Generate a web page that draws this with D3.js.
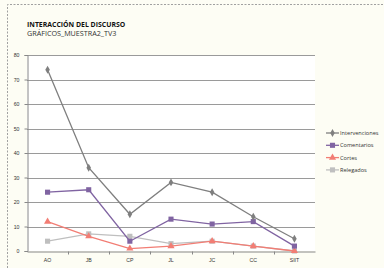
<!DOCTYPE html>
<html>
<head>
<meta charset="utf-8">
<script src="https://cdn.jsdelivr.net/npm/d3@7"></script>
<style>
  body { margin: 0; background: #fdfdf4; }
  svg { display: block; font-family: "Open Sans", "Liberation Sans", sans-serif; }
</style>
</head>
<body>
<div id="chart"></div>
<script>
var categories = ["AO", "JB", "CP", "JL", "JC", "CC", "SIIT"];
var intervenciones = [74, 34, 15, 28, 24, 14, 5];
var comentarios = [24, 25, 4, 13, 11, 12, 2];
var cortes = [12, 6, 1, 2, 4, 2, 0];
var relegados = [4, 7, 6, 3, 4, 2, 0];
var yTicks = [0, 10, 20, 30, 40, 50, 60, 70, 80];

var series = [
  { name: "Intervenciones", values: intervenciones, color: "#7f7f7f", shape: "diamond" },
  { name: "Comentarios", values: comentarios, color: "#8064a2", shape: "square" },
  { name: "Cortes", values: cortes, color: "#f27d74", shape: "triangle" },
  { name: "Relegados", values: relegados, color: "#bfbfbf", shape: "square" }
];

var width = 384, height = 268;
var margin = { top: 55, right: 69, bottom: 17, left: 27 };

var svg = d3.select("#chart").append("svg")
  .attr("width", width)
  .attr("height", height);

// dashed frame
svg.append("path")
  .attr("d", "M7.5," + height + "V4.5H" + width)
  .style("fill", "none")
  .style("stroke", "#a0a0a0")
  .style("stroke-dasharray", "2,1.5");

svg.append("text")
  .attr("x", 27).attr("y", 26.5)
  .style("font-size", "6.9px")
  .style("font-weight", "bold")
  .style("fill", "#111")
  .text("INTERACCIÓN DEL DISCURSO");
svg.append("text")
  .attr("x", 27).attr("y", 36)
  .style("font-size", "7.2px")
  .style("fill", "#333")
  .text("GRÁFICOS_MUESTRA2_TV3");

var x = d3.scaleBand().domain(categories).range([margin.left, width - margin.right]);
var y = d3.scaleLinear().domain([0, 80]).range([height - margin.bottom, margin.top]);

// plot area
svg.append("rect")
  .attr("x", margin.left).attr("y", y(80))
  .attr("width", x.range()[1] - margin.left)
  .attr("height", y(0) - y(80))
  .style("fill", "#fff");

// gridlines
svg.append("g")
  .selectAll("line")
  .data(yTicks.slice(1))
  .enter().append("line")
  .attr("x1", margin.left).attr("x2", x.range()[1])
  .attr("y1", function(d) { return Math.round(y(d)) + 0.5; })
  .attr("y2", function(d) { return Math.round(y(d)) + 0.5; })
  .style("stroke", "#9a9a9a")
  .style("stroke-width", "1px");

// y axis
var yAxis = svg.append("g")
  .attr("transform", "translate(" + (margin.left + 0.5) + ",0)")
  .call(d3.axisLeft(y).tickValues(yTicks).tickSize(3).tickPadding(5));
yAxis.selectAll("text").style("font-size", "5.2px").style("fill", "#333");
yAxis.selectAll("path, line").style("stroke", "#888");

// x axis
var xAxis = svg.append("g")
  .attr("transform", "translate(0," + (Math.round(y(0)) + 0.5) + ")")
  .call(d3.axisBottom(x).tickSize(0).tickPadding(7));
xAxis.select(".domain").style("stroke", "#888");
xAxis.selectAll("text").style("font-size", "5.2px").style("fill", "#333");
xAxis.selectAll(".sep")
  .data(categories.slice(1))
  .enter().append("line")
  .attr("class", "sep")
  .attr("x1", function(d) { return Math.round(x(d)) + 0.5; })
  .attr("x2", function(d) { return Math.round(x(d)) + 0.5; })
  .attr("y1", 0).attr("y2", 3)
  .style("stroke", "#888");

var symbolType = {
  diamond: d3.symbolDiamond,
  square: d3.symbolSquare,
  triangle: d3.symbolTriangle
};
var symbolSize = { diamond: 18, square: 26, triangle: 22 };

var line = d3.line()
  .x(function(d, i) { return x(categories[i]) + x.bandwidth() / 2; })
  .y(function(d) { return y(d); });

// draw from back to front
series.slice().reverse().forEach(function(s) {
  var g = svg.append("g");
  g.append("path")
    .datum(s.values)
    .attr("d", line)
    .style("fill", "none")
    .style("stroke", s.color)
    .style("stroke-width", "1.3px");
  g.selectAll("path.m")
    .data(s.values)
    .enter().append("path")
    .attr("class", "m")
    .attr("transform", function(d, i) {
      return "translate(" + (x(categories[i]) + x.bandwidth() / 2) + "," + y(d) + ")";
    })
    .attr("d", d3.symbol().type(symbolType[s.shape]).size(symbolSize[s.shape]))
    .style("fill", s.color);
});

// legend
var legend = svg.append("g")
  .selectAll("g")
  .data(series)
  .enter().append("g")
  .attr("transform", function(d, i) { return "translate(326," + (133 + i * 12.3) + ")"; });
legend.append("line")
  .attr("x1", 0).attr("x2", 13)
  .style("stroke", function(d) { return d.color; })
  .style("stroke-width", "1.3px");
legend.append("path")
  .attr("transform", "translate(6.5,0)")
  .attr("d", function(d) { return d3.symbol().type(symbolType[d.shape]).size(symbolSize[d.shape])(); })
  .style("fill", function(d) { return d.color; });
legend.append("text")
  .attr("x", 14).attr("dy", "0.35em")
  .style("font-size", "5.6px")
  .style("fill", "#333")
  .text(function(d) { return d.name; });
</script>
</body>
</html>
